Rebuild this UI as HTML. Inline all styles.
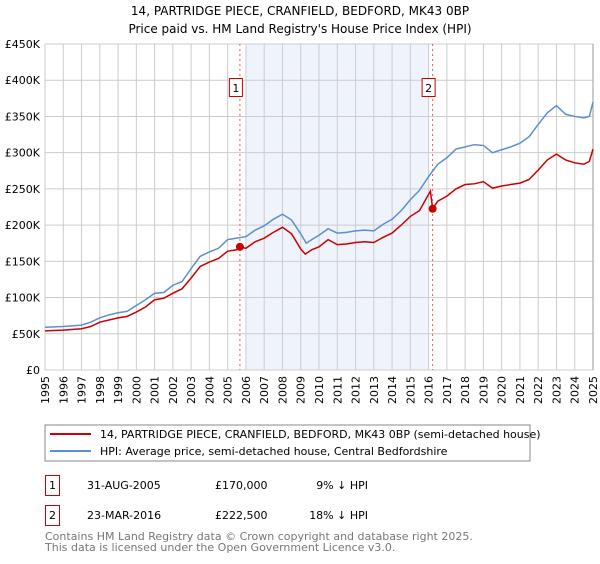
<!DOCTYPE html>
<html><head><meta charset="utf-8"><style>
body{margin:0;background:#fff;font-family:"DejaVu Sans","Liberation Sans",sans-serif;}
svg text{font-family:"DejaVu Sans","Liberation Sans",sans-serif;}
</style></head><body>
<svg id="chart" width="600" height="560" xmlns="http://www.w3.org/2000/svg">
<text x="300" y="15" text-anchor="middle" font-size="12">14, PARTRIDGE PIECE, CRANFIELD, BEDFORD, MK43 0BP</text>
<text x="300" y="33" text-anchor="middle" font-size="12">Price paid vs. HM Land Registry's House Price Index (HPI)</text>
<g id="plot"></g>
<rect x="45" y="425" width="485" height="36" fill="#fff" stroke="#888"/>
<line x1="50" y1="434" x2="91" y2="434" stroke="#cc0000" stroke-width="2"/>
<text x="100" y="438" font-size="11">14, PARTRIDGE PIECE, CRANFIELD, BEDFORD, MK43 0BP (semi-detached house)</text>
<line x1="50" y1="451" x2="91" y2="451" stroke="#5b8fd0" stroke-width="2"/>
<text x="100" y="455" font-size="11">HPI: Average price, semi-detached house, Central Bedfordshire</text>
<g>
<rect x="45.5" y="475.5" width="14" height="20" fill="#fff" stroke="#cc0000"/>
<text x="52.5" y="489" text-anchor="middle" font-size="11">1</text>
<text x="87" y="489" font-size="11">31-AUG-2005</text>
<text x="215" y="489" font-size="11">£170,000</text>
<text x="368" y="489" font-size="11" text-anchor="end">9% ↓ HPI</text>
</g>
<g>
<rect x="45.5" y="505.5" width="14" height="20" fill="#fff" stroke="#cc0000"/>
<text x="52.5" y="519" text-anchor="middle" font-size="11">2</text>
<text x="87" y="519" font-size="11">23-MAR-2016</text>
<text x="215" y="519" font-size="11">£222,500</text>
<text x="368" y="519" font-size="11" text-anchor="end">18% ↓ HPI</text>
</g>
<text x="45" y="540" font-size="11" fill="#777">Contains HM Land Registry data © Crown copyright and database right 2025.</text>
<text x="45" y="551" font-size="11" fill="#777">This data is licensed under the Open Government Licence v3.0.</text>
</svg>
<script>
const yTicks=[0,50000,100000,150000,200000,250000,300000,350000,400000,450000];
const yTickLabels=["£0","£50K","£100K","£150K","£200K","£250K","£300K","£350K","£400K","£450K"];
const xTicks=[1995,1996,1997,1998,1999,2000,2001,2002,2003,2004,2005,2006,2007,2008,2009,2010,2011,2012,2013,2014,2015,2016,2017,2018,2019,2020,2021,2022,2023,2024,2025];
const hpiYears=[1995,1996,1997,1997.5,1998,1998.5,1999,1999.5,2000,2000.5,2001,2001.5,2002,2002.5,2003,2003.5,2004,2004.5,2005,2005.5,2006,2006.5,2007,2007.5,2008,2008.5,2009,2009.3,2009.6,2010,2010.5,2011,2011.5,2012,2012.5,2013,2013.5,2014,2014.5,2015,2015.5,2016,2016.5,2017,2017.5,2018,2018.5,2019,2019.5,2020,2020.5,2021,2021.5,2022,2022.5,2023,2023.5,2024,2024.5,2024.8,2025];
const hpiValues=[59000,60000,62000,66000,72000,76000,79000,81000,89000,97000,106000,107000,117000,122000,140000,157000,163000,168000,180000,182000,184000,193000,199000,208000,215000,207000,188000,175000,180000,186000,195000,189000,190000,192000,193000,192000,201000,208000,220000,235000,248000,267000,284000,293000,305000,308000,311000,310000,300000,304000,308000,313000,322000,339000,355000,365000,353000,350000,348000,350000,370000];
const priceYears=[1995,1996,1997,1997.5,1998,1998.5,1999,1999.5,2000,2000.5,2001,2001.5,2002,2002.5,2003,2003.5,2004,2004.5,2005,2005.5,2005.67,2006,2006.5,2007,2007.5,2008,2008.5,2009,2009.25,2009.6,2010,2010.5,2011,2011.5,2012,2012.5,2013,2013.5,2014,2014.5,2015,2015.5,2016.1,2016.22,2016.5,2017,2017.5,2018,2018.5,2019,2019.5,2020,2020.5,2021,2021.5,2022,2022.5,2023,2023.5,2024,2024.5,2024.8,2025];
const priceValues=[54000,55000,57000,60000,66000,69000,72000,74000,80000,87000,97000,99000,106000,112000,127000,143000,149000,154000,164000,166000,170000,168000,177000,182000,190000,197000,188000,167000,160000,166000,170000,180000,173000,174000,176000,177000,176000,183000,189000,200000,212000,220000,247000,222500,233000,240000,250000,256000,257000,260000,251000,254000,256000,258000,263000,276000,290000,298000,290000,286000,284000,288000,305000];
const saleYears=[2005.67,2016.22];
const salePrices=[170000,222500];
const saleLabels=["1","2"];
const shadeRange=[2006,2016];

const L=45,R=593,T=44,B=370;
const x=v=>L+(v-1995)/(2025-1995)*(R-L);
const y=v=>B-v/450000*(B-T);
const NS="http://www.w3.org/2000/svg";
const g=document.getElementById('plot');
function mk(tag,attrs){const e=document.createElementNS(NS,tag);for(const k in attrs)e.setAttribute(k,attrs[k]);g.appendChild(e);return e;}

const sh=mk('rect',{x:x(shadeRange[0]),y:T,width:x(shadeRange[1])-x(shadeRange[0]),height:B-T,fill:'#eef3fc'});



xTicks.forEach(t=>{
  const l=mk('line',{x1:x(t),x2:x(t),y1:T,y2:B,stroke:'#ccc','stroke-width':1});
  
  
  const px=x(t)+4, py=B+6;
  const tx=mk('text',{x:px,y:py,'font-size':11,'text-anchor':'end'});
  tx.setAttribute('transform','rotate(-90 '+px+' '+py+')');
  tx.textContent=t;
  
  
});
yTicks.forEach((t,i)=>{
  const l=mk('line',{x1:L,x2:R,y1:y(t),y2:y(t),stroke:'#ccc','stroke-width':1});
  
  
  const tx=mk('text',{x:L-5,y:y(t)+4,'font-size':11,'text-anchor':'end'});
  tx.textContent=yTickLabels[i];
  
  
});
const rb=mk('line',{x1:R,x2:R,y1:T,y2:B,stroke:'#999'});



saleYears.forEach((s,i)=>{
  const l=mk('line',{x1:x(s),x2:x(s),y1:T,y2:B,stroke:'#e06060','stroke-dasharray':'2,3'});
  
  
});

const hp=mk('polyline',{points:hpiYears.map((v,i)=>x(v)+','+y(hpiValues[i])).join(' '),fill:'none',stroke:'#5b8fd0','stroke-width':1.5});


const pp=mk('polyline',{points:priceYears.map((v,i)=>x(v)+','+y(priceValues[i])).join(' '),fill:'none',stroke:'#cc0000','stroke-width':1.5});



saleYears.forEach((s,i)=>{
  const c=mk('circle',{cx:x(s),cy:y(salePrices[i]),r:4,fill:'#cc0000'});
  
  
  const bx=mk('rect',{x:x(s)-10.5,y:78.5,width:13,height:18,fill:'#fff',stroke:'#cc0000'});
  
  
  const t=mk('text',{x:x(s)-4,y:92,'font-size':11,'text-anchor':'middle'});
  t.textContent=saleLabels[i];
  
  
});
</script>
</body></html>
